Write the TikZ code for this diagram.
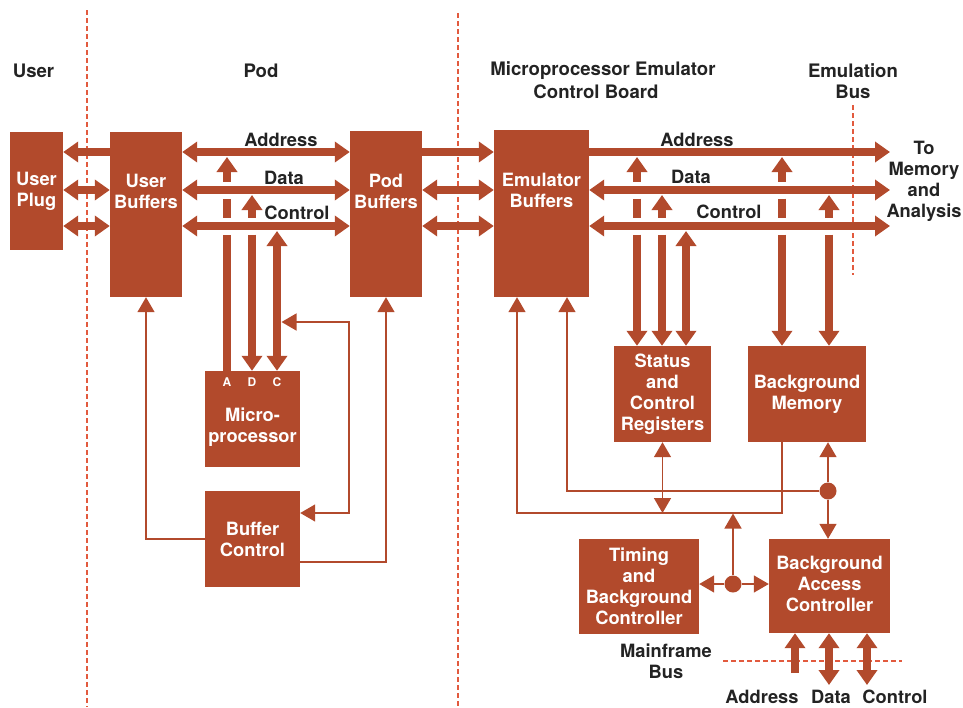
\documentclass[tikz,border=0pt]{standalone}
\usepackage{fontspec}
\setmainfont{TeX Gyre Heros}
\usetikzlibrary{arrows.meta}
\definecolor{rust}{RGB}{178,74,44}
\definecolor{guide}{RGB}{226,90,62}
\definecolor{ink}{RGB}{35,35,35}
\begin{document}
\begin{tikzpicture}[x=1pt,y=-1pt,
  box/.style={fill=rust, draw=none, text=white, inner sep=0pt, align=center,
    font=\fontsize{18.3}{21}\selectfont\bfseries},
  wtext/.style={text=white, inner sep=0pt, align=center,
    font=\fontsize{18.3}{21}\selectfont\bfseries},
  pin/.style={text=white, inner sep=0pt, font=\fontsize{12}{14}\selectfont\bfseries},
  lbl/.style={text=ink, inner sep=0pt, align=center,
    font=\fontsize{18.3}{21}\selectfont\bfseries},
  head/.style={text=ink, inner sep=0pt, align=center,
    font=\fontsize{18.6}{21}\selectfont\bfseries},
  shaft/.style={draw=rust, line width=7.5pt},
  busto/.style={shaft, -{Triangle[length=15pt,width=20pt]}},
  busboth/.style={shaft, {Triangle[length=15pt,width=20pt]}-{Triangle[length=15pt,width=20pt]}},
  wire/.style={draw=rust, line width=1.5pt},
  wireto/.style={wire, -{Triangle[length=15pt,width=17pt]}},
  wireboth/.style={wire, {Triangle[length=15pt,width=17pt]}-{Triangle[length=15pt,width=17pt]}},
  divider/.style={draw=guide, line width=1.2pt, dash pattern=on 5pt off 3pt},
  joint/.style={circle, fill=rust, minimum size=17pt, inner sep=0pt}
]
\useasboundingbox (0,0) rectangle (963,707);

% section dividers
\coordinate (d1t) at (87,10);    \coordinate (d1b) at (87,707);
\coordinate (d2t) at (458,13);   \coordinate (d2b) at (458,707);
\coordinate (d3t) at (853,105);  \coordinate (d3b) at (853,275);
\coordinate (mfl) at (723,661);  \coordinate (mfr) at (902,661);
\draw[divider] (d1t) -- (d1b);
\draw[divider] (d2t) -- (d2b);
\draw[divider] (d3t) -- (d3b);
\draw[divider] (mfl) -- (mfr);

% headings
\node[head] (hUser) at (33.5,71) {User};
\node[head] (hPod) at (261,71) {Pod};
\node[head] (hBoard1) at (603,71) {Microprocessor Emulator};
\node[head] (hBoard2) at (596,92) {Control Board};
\node[head] (hEmu) at (853,81) {Emulation\\Bus};

% blocks
\node[box, minimum width=53pt, minimum height=118pt] (plug) at (36.5,191) {User\\Plug};
\node[box, minimum width=72pt, minimum height=165pt] (ubuf) at (146,214.5) {};
\node[wtext] (ubufT) at (146,191) {User\\Buffers};
\node[box, minimum width=72pt, minimum height=166pt] (pbuf) at (386,214) {};
\node[wtext] (pbufT) at (386,191) {Pod\\Buffers};
\node[box, minimum width=95pt, minimum height=167pt] (ebuf) at (541.5,213.5) {};
\node[wtext] (ebufT) at (541.5,190) {Emulator\\Buffers};
\node[box, minimum width=95pt, minimum height=96pt] (micro) at (252.5,419) {};
\node[wtext] (microtxt) at (252.5,427) {Micro-\\processor};
\node[pin] (pA) at (227,382) {A};
\node[pin] (pD) at (252,382) {D};
\node[pin] (pC) at (277,382) {C};
\node[box, minimum width=95pt, minimum height=96pt] (bctl) at (252.5,539) {Buffer\\Control};
\node[box, minimum width=97pt, minimum height=96pt] (stat) at (662.5,394) {Status\\and\\Control\\Registers};
\node[box, minimum width=118pt, minimum height=96pt] (bmem) at (807,394) {Background\\Memory};
\node[box, minimum width=120pt, minimum height=95pt] (timing) at (639,586.5) {Timing\\and\\Background\\Controller};
\node[box, minimum width=121pt, minimum height=94pt] (bac) at (829.5,586) {};
\node[wtext] (bacT) at (829.5,584) {Background\\Access\\Controller};

% bus labels
\node[lbl] (lA1) at (281,140) {Address};
\node[lbl] (lD1) at (284,178) {Data};
\node[lbl] (lC1) at (297,213) {Control};
\node[lbl] (lA2) at (697,140) {Address};
\node[lbl] (lD2) at (691,177) {Data};
\node[lbl] (lC2) at (729,212) {Control};
\node[lbl] (tomem) at (924,181) {To\\Memory\\and\\Analysis};
\node[lbl] (mfbus) at (666,661) {Mainframe\\Bus};
\node[lbl] (mA) at (762,697) {Address};
\node[lbl] (mD) at (831,697) {Data};
\node[lbl] (mC) at (895,697) {Control};

% user plug <-> user buffers
\draw[busto]   (ubuf.west |- 0,152) -- (plug.east |- 0,152);
\draw[busboth] (ubuf.west |- 0,190) -- (plug.east |- 0,190);
\draw[busboth] (ubuf.west |- 0,226) -- (plug.east |- 0,226);

% user buffers <-> pod buffers
\draw[busboth] (ubuf.east |- 0,152) -- (pbuf.west |- 0,152);
\draw[busboth] (ubuf.east |- 0,190) -- (pbuf.west |- 0,190);
\draw[busboth] (ubuf.east |- 0,226) -- (pbuf.west |- 0,226);

% pod buffers <-> emulator buffers
\draw[busto]   (pbuf.east |- 0,152) -- (ebuf.west |- 0,152);
\draw[busboth] (pbuf.east |- 0,190) -- (ebuf.west |- 0,190);
\draw[busboth] (pbuf.east |- 0,226) -- (ebuf.west |- 0,226);

% emulation bus
\coordinate (outA) at (890,152);
\coordinate (outD) at (890,190);
\coordinate (outC) at (890,226);
\draw[busto]   (ebuf.east |- outA) -- (outA);
\draw[busboth] (ebuf.east |- outD) -- (outD);
\draw[busboth] (ebuf.east |- outC) -- (outC);

% microprocessor taps onto the pod buses
\coordinate (cA) at (227,0);
\coordinate (cD) at (252,0);
\coordinate (cC) at (277,0);
\draw[shaft] (cA |- micro.north) -- (cA |- 0,234.5);
\draw[shaft] (cA |- 0,217.5) -- (cA |- 0,198.5);
\draw[busto] (cA |- 0,181.5) -- (cA |- 0,157);
\draw[busto] (cD |- 0,234.5) -- (cD |- micro.north);
\draw[busto] (cD |- 0,217.5) -- (cD |- 0,195);
\draw[busboth] (cC |- micro.north) -- (cC |- 0,231);

% buffer control wiring
\coordinate (cin) at (281.5,322);
\draw[wireboth] (cin) -- (349,322) -- (349,513) -- (bctl.east |- 0,513);
\draw[wireto] (bctl.west |- 0,539) -| (ubuf.south);
\draw[wireto] (bctl.east |- 0,562) -| (pbuf.south);

% register and memory taps onto the emulation bus
\coordinate (eA) at (637,0);
\coordinate (eD) at (662,0);
\coordinate (eC) at (686,0);
\coordinate (mA) at (782,0);
\coordinate (mD) at (829,0);
\draw[busto] (eA |- 0,181.5) -- (eA |- 0,157);
\draw[shaft] (eA |- 0,198.5) -- (eA |- 0,217.5);
\draw[busto] (eA |- 0,234.5) -- (eA |- stat.north);
\draw[busto] (eD |- 0,217.5) -- (eD |- 0,195);
\draw[busto] (eD |- 0,234.5) -- (eD |- stat.north);
\draw[busboth] (eC |- stat.north) -- (eC |- 0,231);
\draw[busto] (mA |- 0,181.5) -- (mA |- 0,157);
\draw[shaft] (mA |- 0,198.5) -- (mA |- 0,217.5);
\draw[busto] (mA |- 0,234.5) -- (mA |- bmem.north);
\draw[busto] (mD |- 0,217.5) -- (mD |- 0,195);
\draw[busto] (mD |- 0,234.5) -- (mD |- bmem.north);

% background control wiring
\node[joint] (j1) at (828,491) {};
\node[joint] (j2) at (733,584) {};
\draw[wireto] (j1) -| (ebuf.south -| 567,0);
\draw[wireto] (bmem.south -| mA) -- (782,513) -| (ebuf.south -| 517,0);
\draw[wireboth] (stat.south) -- (stat.south |- 0,513);
\draw[wireto] (j1) -- (bmem.south -| j1);
\draw[wireto] (j1) -- (bac.north -| j1);
\draw[wireto] (j2) -- (timing.east |- j2);
\draw[wireto] (j2) -- (bac.west |- j2);
\draw[wireto] (j2) -- (733,513.5);

% mainframe bus
\coordinate (fA) at (795,673);
\coordinate (fD) at (829,685);
\coordinate (fC) at (867,685);
\draw[busto]   (fA) -- (bac.south -| fA);
\draw[busboth] (fD) -- (bac.south -| fD);
\draw[busboth] (fC) -- (bac.south -| fC);
\end{tikzpicture}
\end{document}
